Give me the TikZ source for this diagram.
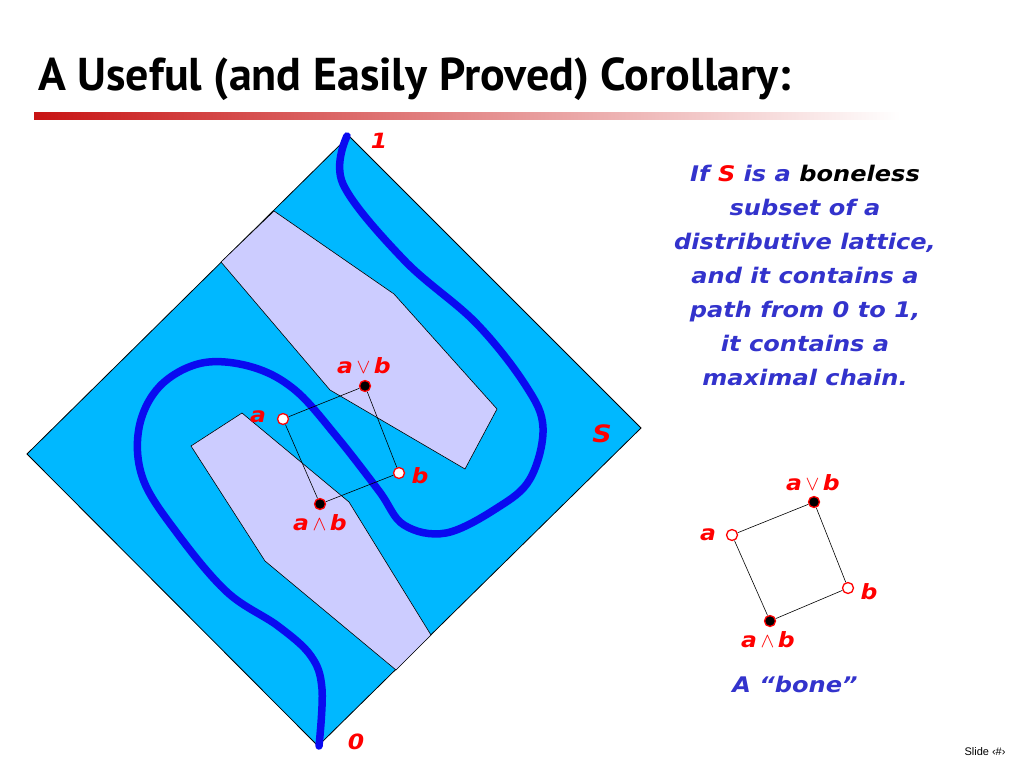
\documentclass[tikz,border=0pt]{standalone}
\usepackage{fontspec}
\setmainfont[FakeStretch=1.12]{DejaVu Sans}
\newfontfamily\titlefont{PT Sans}
\newfontfamily\slidefont{Liberation Sans}
\usetikzlibrary{positioning}
\definecolor{sky}{RGB}{0,184,255}
\definecolor{lilac}{RGB}{204,204,255}
\definecolor{riverblue}{RGB}{10,10,240}
\definecolor{ink}{RGB}{51,51,204}
\definecolor{barred}{RGB}{200,20,20}
\newcommand{\lblfont}{\bfseries\itshape\fontsize{21}{24}\selectfont}
\newcommand{\jn}{\,$\vee$\,}
\newcommand{\mt}{\,$\wedge$\,}
\tikzstyle{blob}=[draw, fill=lilac, line width=0.6pt]
\tikzstyle{dotw}=[circle, draw=red, fill=white, line width=1.3pt, inner sep=0pt, minimum size=11pt]
\tikzstyle{dotb}=[circle, draw=red, fill=black, line width=1.3pt, inner sep=0pt, minimum size=11pt]
\tikzstyle{lab}=[text=red, font=\lblfont, inner sep=1pt]
\tikzstyle{edge}=[black, line width=0.6pt]
\tikzstyle{riverline}=[draw=riverblue, line width=7.5pt, line cap=round]

\begin{document}
\begin{tikzpicture}[x=1pt,y=-1pt]
\useasboundingbox (0,0) rectangle (1024,768);
\node[anchor=base west, inner sep=0pt, font=\titlefont\bfseries\fontsize{46}{50}\selectfont] (title) at (38,90) {A Useful (and Easily Proved) Corollary:};
\shade[left color=barred, right color=white] (34,112) rectangle (900,119);

% the set S
\filldraw[fill=sky, draw=black, line width=0.8pt] (349,136) -- (641,428) -- (318,746) -- (27,454) -- cycle;
\draw[blob] (274,211) -- (221,262) -- (330,390) -- (465,469) -- (497,409) -- (394,294) -- cycle;
\draw[blob] (242,413) -- (191,446) -- (265,561) -- (396,670) -- (431,635) -- (349,502) -- cycle;
\draw[riverline] plot[smooth, tension=0.6] coordinates {(347,136) (343,184) (404,260) (476,323) (526,386) (543,428) (530,479) (497,508) (446,533) (404,525) (379,491) (337,437) (295,390) (252,367) (202,363) (160,386) (139,428) (143,479) (177,533) (227,592) (278,626) (311,656) (322,689) (319,746)};

\node[dotb] (j1) at (365,386) {};
\node[dotw] (a1) at (283,419) {};
\node[dotw] (b1) at (399,473) {};
\node[dotb] (m1) at (320,504) {};
\draw[edge] (a1) -- (j1);
\draw[edge] (j1) -- (b1);
\draw[edge] (a1) -- (m1);
\draw[edge] (m1) -- (b1);
\node[lab] at (364,366) {a\jn b};
\node[lab] at (258,417) {a};
\node[lab] at (420,476) {b};
\node[lab] at (320,523) {a\mt b};
\node[lab] at (379,141) {1};
\node[lab] at (356,742) {0};
\node[lab, font=\bfseries\itshape\fontsize{24}{28}\selectfont] at (602,434) {S};

% the statement
\node[text=ink, align=center, font=\bfseries\itshape\fontsize{21.5}{34}\selectfont] (stmt) at (805,275) {If \textcolor{red}{S} is a \textcolor{black}{boneless}\\ subset of a\\ distributive lattice,\\ and it contains a\\ path from 0 to 1,\\ it contains a\\ maximal chain.};

% a bone
\node[dotb] (j2) at (814,502) {};
\node[dotw] (a2) at (732,535) {};
\node[dotw] (b2) at (848,588) {};
\node[dotb] (m2) at (770,621) {};
\draw[edge] (a2) -- (j2);
\draw[edge] (j2) -- (b2);
\draw[edge] (a2) -- (m2);
\draw[edge] (m2) -- (b2);
\node[lab] at (813,483) {a\jn b};
\node[lab] at (708,535) {a};
\node[lab] at (869,592) {b};
\node[lab] at (768,640) {a\mt b};
\node[text=ink, font=\bfseries\itshape\fontsize{21.5}{26}\selectfont] (bone) at (795,684) {A “bone”};

\node[font=\slidefont\fontsize{11}{13}\selectfont] (slide) at (985,752) {Slide ‹\#›};
\end{tikzpicture}
\end{document}
